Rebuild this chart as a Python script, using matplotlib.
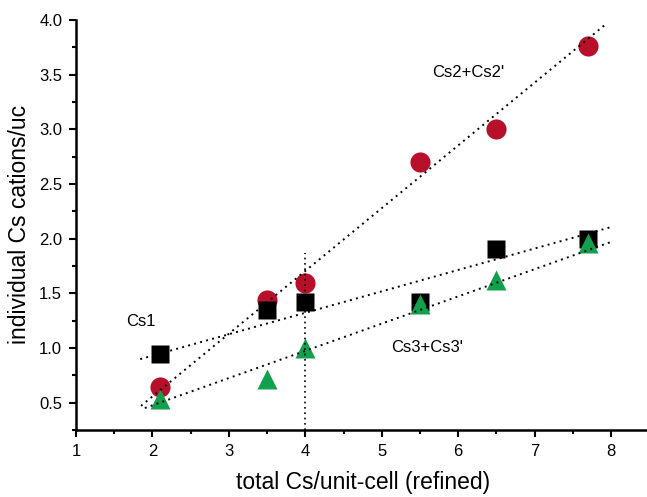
import numpy as np
import matplotlib.pyplot as plt
from matplotlib.ticker import MultipleLocator

plt.rcParams["font.family"] = ["Liberation Sans", "DejaVu Sans"]

# total Cs per unit cell (refined)
total_cs = [2.1, 3.5, 4.0, 5.5, 6.5, 7.7]

# individual site occupancies
cs1 = [0.94, 1.35, 1.42, 1.42, 1.90, 2.00]
cs2 = [0.64, 1.44, 1.59, 2.70, 3.00, 3.76]
cs3 = [0.53, 0.72, 1.00, 1.40, 1.62, 1.96]

# linear trend lines: slope, intercept, x range
fit_slope = [0.574, 0.196, 0.249]       # Cs2, Cs1, Cs3
fit_intercept = [-0.592, 0.537, -0.023]
fit_start = [1.85, 1.84, 1.9]
fit_end = [7.95, 8.0, 8.02]

RED = "#b8102a"
GREEN = "#12a04e"

fig = plt.figure(figsize=(6.47, 4.97), dpi=100)
ax = fig.add_axes([0.1175, 0.135, 0.886, 0.825])

ax.plot(total_cs, cs2, "o", color=RED, ms=14.5, mec="none", zorder=2)
ax.plot(total_cs, cs1, "s", color="black", ms=13, mec="none", zorder=2)
ax.plot(total_cs, cs3, "^", color=GREEN, ms=15, mec="none", zorder=3)

for k, b, x0, x1 in zip(fit_slope, fit_intercept, fit_start, fit_end):
    xx = np.array([x0, x1])
    ax.plot(xx, k * xx + b, ls=(0, (1, 2.2)), color="black", lw=1.4, zorder=4)

# vertical marker at 4 Cs/uc
ax.plot([4, 4], [0.25, 1.87], ls=(0, (1, 2.2)), color="black", lw=1.2, zorder=4)

ax.text(6.13, 3.52, "Cs2+Cs2'", ha="center", va="center", fontsize=12)
ax.text(1.85, 1.24, "Cs1", ha="center", va="center", fontsize=12)
ax.text(5.59, 1.0, "Cs3+Cs3'", ha="center", va="center", fontsize=12)

ax.set_xlim(1, 8.5)
ax.set_ylim(0.25, 4.0)
ax.xaxis.set_major_locator(MultipleLocator(1))
ax.xaxis.set_minor_locator(MultipleLocator(0.5))
ax.yaxis.set_minor_locator(MultipleLocator(0.25))
ax.set_yticks(np.arange(0.5, 4.01, 0.5))

for side in ["top", "right"]:
    ax.spines[side].set_visible(False)
for side in ["left", "bottom"]:
    ax.spines[side].set_linewidth(1.8)

ax.tick_params(which="major", direction="out", length=5, width=1.5,
               labelsize=12, pad=5)
ax.tick_params(which="minor", direction="out", length=3, width=1.5)

ax.set_xlabel("total Cs/unit-cell (refined)", fontsize=16.5, labelpad=9)
ax.set_ylabel("individual Cs cations/uc", fontsize=16.5, labelpad=6)

fig.savefig("out.png", dpi=100)
